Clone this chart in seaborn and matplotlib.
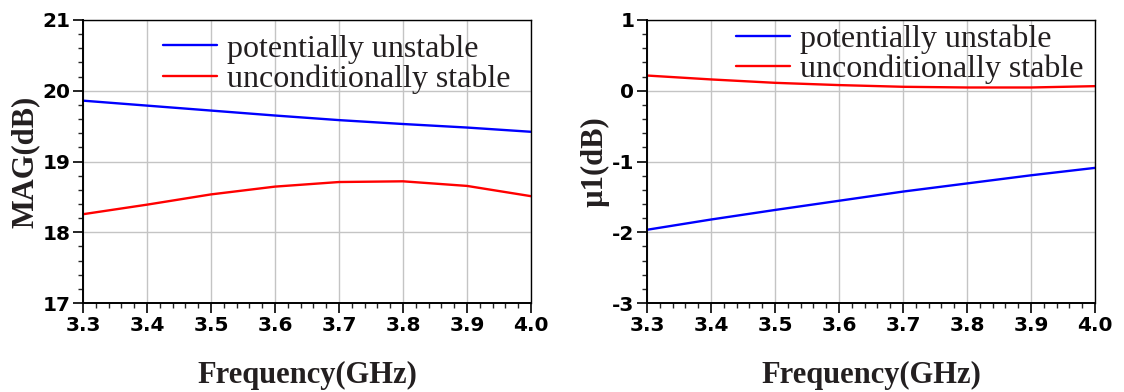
import numpy as np
import pandas as pd
import seaborn as sns
from matplotlib import pyplot as plt
from matplotlib.ticker import MultipleLocator

freq = [3.3, 3.4, 3.5, 3.6, 3.7, 3.8, 3.9, 4.0]
series_names = ["potentially unstable", "unconditionally stable"]

# MAG (dB)
mag_unstable = [19.86, 19.79, 19.72, 19.65, 19.585, 19.53, 19.48, 19.42]
mag_stable = [18.255, 18.39, 18.535, 18.645, 18.71, 18.72, 18.655, 18.51]

# mu1 (dB)
mu_unstable = [-1.965, -1.82, -1.685, -1.555, -1.425, -1.31, -1.195, -1.09]
mu_stable = [0.215, 0.16, 0.112, 0.08, 0.056, 0.046, 0.046, 0.065]

sns.set_style("white")
plt.rcParams['axes.unicode_minus'] = False
plt.rcParams['font.family'] = ['DejaVu Sans']

serif = ['Liberation Serif', 'DejaVu Serif']
label_color = '#231f20'


def make_df(unstable, stable):
    return pd.DataFrame({
        "freq": freq * 2,
        "value": unstable + stable,
        "series": [series_names[0]] * len(freq) + [series_names[1]] * len(freq),
    })


fig = plt.figure(figsize=(11.24, 3.92), dpi=100)
ax1 = fig.add_axes([0.0738, 0.227, 0.3986, 0.722])
ax2 = fig.add_axes([0.5756, 0.227, 0.3986, 0.722])

panels = [
    (ax1, make_df(mag_unstable, mag_stable), (17, 21), "MAG(dB)", (0.178, 0.95)),
    (ax2, make_df(mu_unstable, mu_stable), (-3, 1), "\u00b51(dB)", (0.199, 0.985)),
]

for ax, df, ylim, ylabel, anchor in panels:
    sns.lineplot(data=df, x="freq", y="value", hue="series",
                 palette=["#0000ff", "#ff0000"], linewidth=1.7, ax=ax)
    ax.set_xlim(3.3, 4.0)
    ax.set_ylim(*ylim)
    ax.xaxis.set_major_locator(MultipleLocator(0.1))
    ax.xaxis.set_minor_locator(MultipleLocator(0.02))
    ax.yaxis.set_major_locator(MultipleLocator(1))
    ax.yaxis.set_minor_locator(MultipleLocator(0.2))
    ax.set_xticklabels([f"{v:.1f}" for v in ax.get_xticks()])
    ax.grid(True, which='major', color='#c4c4c4', linewidth=1.0)
    ax.tick_params(which='major', direction='out', length=7, width=1.2,
                   labelsize=14.5, colors='black', left=True, bottom=True, pad=2)
    ax.tick_params(which='minor', direction='out', length=3.5, width=1.0,
                   left=True, bottom=True)
    for lab in ax.get_xticklabels() + ax.get_yticklabels():
        lab.set_fontweight('bold')
    for side in ['left', 'bottom']:
        ax.spines[side].set_linewidth(1.4)
        ax.spines[side].set_color('black')
    for side in ['top', 'right']:
        ax.spines[side].set_linewidth(1.0)
        ax.spines[side].set_color('black')
    ax.set_xlabel("Frequency(GHz)", family=serif, fontsize=22, fontweight='bold',
                  color=label_color, labelpad=19)
    ax.set_ylabel(ylabel, family=serif, fontsize=22, fontweight='bold',
                  color=label_color, labelpad=2)
    ax.legend(loc='upper left', bbox_to_anchor=anchor, frameon=False,
              prop={'family': serif, 'size': 23}, handlelength=1.7,
              handletextpad=0.3, labelspacing=0.03, borderpad=0.0,
              borderaxespad=0.0)
    leg = ax.get_legend()
    for t in leg.get_texts():
        t.set_color(label_color)

fig.savefig("out.png", dpi=100)
